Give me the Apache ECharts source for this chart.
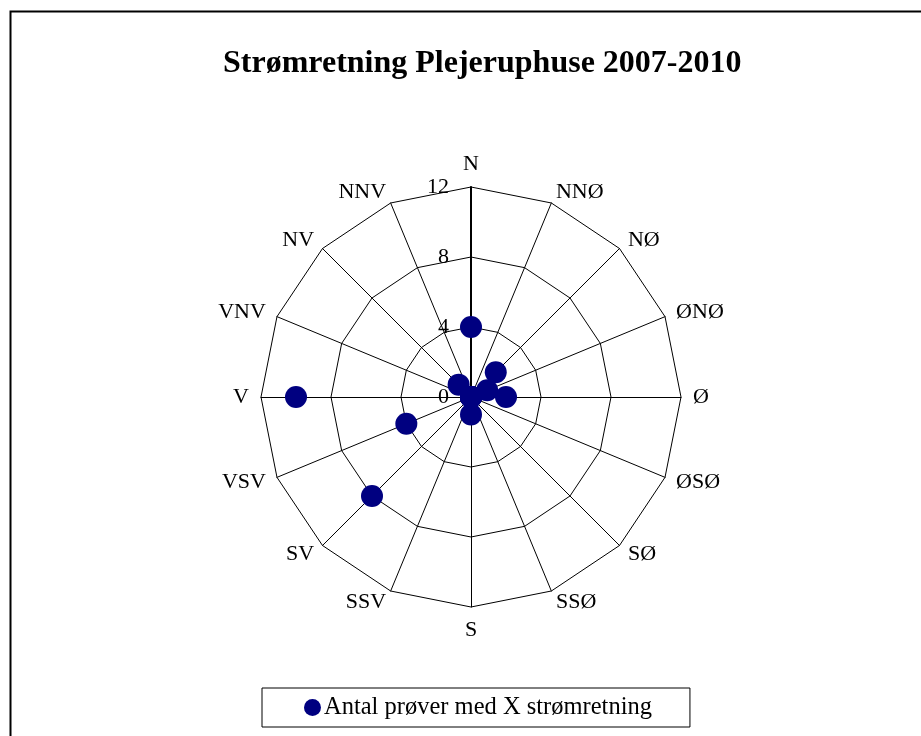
<!DOCTYPE html>
<html>
<head>
<meta charset="utf-8">
<script src="https://cdn.jsdelivr.net/npm/echarts@6/dist/echarts.min.js"></script>
<style>
html,body{margin:0;padding:0;background:#fff;}
#c{width:921px;height:736px;}
</style>
</head>
<body>
<div id="c"></div>
<script>
// Directions in clockwise order starting at north
var directions = ['N','NNØ','NØ','ØNØ','Ø','ØSØ','SØ','SSØ','S','SSV','SV','VSV','V','VNV','NV','NNV'];
// Number of samples per direction
var counts = [4, 0, 2, 1, 2, 0, 0, 0, 1, 0, 8, 4, 10, 0, 1, 0];
var axisMax = 12;
var tickLabels = [0, 4, 8, 12];
var seriesName = 'Antal prøver med X strømretning';
var titleText = 'Strømretning Plejeruphuse 2007-2010';

// ECharts radar places indicators counter-clockwise; reorder to get clockwise
function toCcw(arr){ return [arr[0]].concat(arr.slice(1).reverse()); }
var dirsCcw = toCcw(directions);
var countsCcw = toCcw(counts);

var FONT = 'Liberation Serif';
var indicator = dirsCcw.map(function(d, i){
  var o = { name: d, max: axisMax, min: 0 };
  if (i === 0) {
    o.axisLabel = { show: true };
    o.axisLine = { lineStyle: { color: '#000', width: 2 } };
  }
  return o;
});

var chart = echarts.init(document.getElementById('c'));
chart.setOption({
  backgroundColor: '#fff',
  animation: false,
  title: {
    text: titleText,
    left: 218,
    top: 43,
    textStyle: { fontFamily: FONT, fontWeight: 'bold', fontSize: 32, color: '#000' }
  },
  graphic: [{
    type: 'rect',
    shape: { x: 10.5, y: 11.5, width: 1000, height: 1000 },
    style: { fill: null, stroke: '#000', lineWidth: 2 },
    silent: true
  }],
  legend: {
    data: [{ name: seriesName, icon: 'circle' }],
    left: 262,
    top: 688,
    itemWidth: 17,
    itemHeight: 17,
    itemGap: 0,
    padding: [7, 38, 7, 42],
    borderColor: '#000',
    borderWidth: 1,
    borderRadius: 0,
    textStyle: { fontFamily: FONT, fontSize: 24.5, color: '#000', padding: [0,0,0,-2] }
  },
  radar: {
    center: [471, 397],
    radius: 210,
    startAngle: 90,
    shape: 'polygon',
    splitNumber: 3,
    nameGap: 12,
    axisName: { fontFamily: FONT, fontSize: 22, color: '#000' },
    axisLine: { lineStyle: { color: '#000', width: 1 } },
    splitLine: { lineStyle: { color: '#000', width: 1 } },
    splitArea: { show: false },
    axisTick: { show: false },
    axisLabel: {
      show: false,
      fontFamily: FONT, fontSize: 22, color: '#000',
      margin: 22,
      formatter: function(v){ return tickLabels.indexOf(v) >= 0 ? String(v) : ''; }
    },
    indicator: indicator
  },
  series: [{
    type: 'radar',
    name: seriesName,
    symbol: 'circle',
    symbolSize: 22,
    itemStyle: { color: '#000080' },
    lineStyle: { width: 0, opacity: 0 },
    areaStyle: null,
    data: [{ value: countsCcw, name: seriesName }]
  }]
});
</script>
</body>
</html>
